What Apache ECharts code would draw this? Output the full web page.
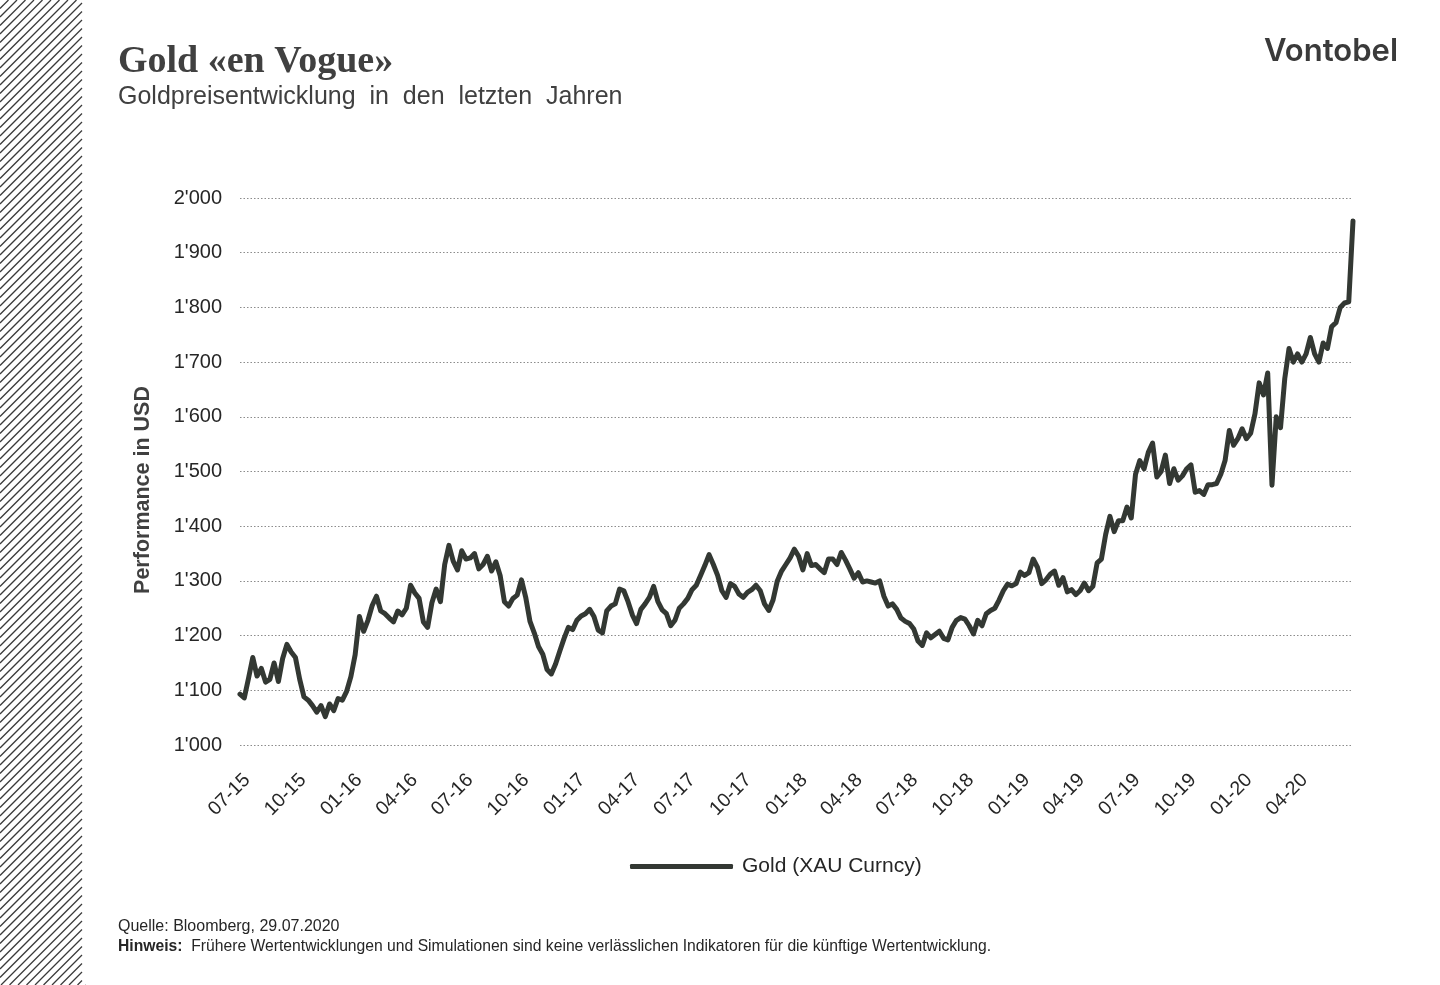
<!DOCTYPE html>
<html>
<head>
<meta charset="utf-8">
<script src="https://cdn.jsdelivr.net/npm/echarts@6/dist/echarts.min.js"></script>
<style>
html,body{margin:0;padding:0;background:#fff;}
#chart{width:1440px;height:985px;}
</style>
</head>
<body>
<div id="chart"></div>
<script>
// Weekly gold price (USD/oz), one value per Wednesday starting 29.07.2015
const startDate = '2015-07-29';
const gold2015 = [1093,1086,1122,1160,1126,1140,1115,1120,1150,1116,1158,1184,1170,1160,1120,1088,1082,1072,1060,1072,1052,1075,1063];
const gold2016 = [1085,1082,1098,1125,1165,1235,1208,1228,1255,1272,1245,1240,1232,1225,1245,1238,1250,1292,1278,1268,1225,1215,1260,1285,1262,1330,1365,1336,1320,1355,1340,1342,1350,1322,1330,1345,1318,1335,1310,1262,1254,1268,1274,1302,1270,1226,1205,1180,1166,1138,1130,1148];
const gold2017 = [1172,1195,1215,1211,1228,1236,1240,1248,1235,1210,1205,1245,1254,1258,1285,1282,1262,1238,1222,1248,1258,1270,1290,1262,1247,1240,1218,1228,1250,1258,1268,1284,1292,1310,1328,1348,1330,1310,1282,1270,1295,1290,1276,1270,1279,1284,1292,1282,1258,1246,1265,1300];
const gold2018 = [1318,1330,1342,1358,1345,1320,1350,1328,1330,1322,1315,1340,1340,1330,1352,1338,1322,1305,1315,1298,1300,1298,1296,1300,1272,1254,1258,1248,1232,1226,1222,1212,1190,1182,1205,1196,1202,1208,1195,1192,1215,1228,1233,1230,1218,1203,1228,1218,1240,1246,1250,1265];
const gold2019 = [1282,1294,1291,1295,1316,1310,1315,1340,1325,1295,1302,1312,1318,1292,1306,1280,1284,1275,1282,1296,1282,1290,1333,1340,1385,1418,1390,1410,1410,1435,1415,1495,1520,1505,1535,1552,1490,1500,1530,1478,1505,1484,1492,1505,1512,1462,1465,1458,1476,1476,1478,1495];
const gold2020 = [1520,1575,1548,1560,1578,1560,1570,1605,1662,1640,1680,1475,1600,1580,1670,1725,1700,1715,1700,1715,1745,1715,1700,1735,1725,1765,1772,1800,1808,1810,1958];

// x-axis tick positions and labels (quarterly)
const tickDates = ['2015-07-29','2015-10-29','2016-01-29','2016-04-29','2016-07-29','2016-10-29','2017-01-29','2017-04-29','2017-07-29','2017-10-29','2018-01-29','2018-04-29','2018-07-29','2018-10-29','2019-01-29','2019-04-29','2019-07-29','2019-10-29','2020-01-29','2020-04-29'];
const tickLabels = ['07-15','10-15','01-16','04-16','07-16','10-16','01-17','04-17','07-17','10-17','01-18','04-18','07-18','10-18','01-19','04-19','07-19','10-19','01-20','04-20'];

const yMin = 1000, yMax = 2000, yStep = 100;
const seriesName = 'Gold (XAU Curncy)';
const axisName = 'Performance in USD';

const DAY = 86400000;
function toUTC(s){ const p = s.split('-').map(Number); return Date.UTC(p[0], p[1]-1, p[2]); }
const t0 = toUTC(startDate);
const tickDays = tickDates.map(s => Math.round((toUTC(s) - t0) / DAY));
const values = [].concat(gold2015, gold2016, gold2017, gold2018, gold2019, gold2020);
const data = values.map((v, i) => [7 * i, v]);          // x = days since start date
const xMax = 7 * (values.length - 1);

// decorative hatched band on the left
const stripes = [];
const bandW = 82, H = 985, step = 8.5;
for (let c = 0; c < bandW + H + step; c += step) {
  const x1 = Math.max(0, c - H), y1 = c - x1;
  const x2 = Math.min(bandW, c), y2 = c - x2;
  stripes.push({type:'line', silent:true, shape:{x1:x1, y1:y1, x2:x2, y2:y2}, style:{stroke:'#3a3a3a', lineWidth:1.3}});
}

const textColor = '#404040';
const chart = echarts.init(document.getElementById('chart'), null, {renderer:'canvas'});
chart.setOption({
  animation: false,
  backgroundColor: '#fff',
  grid: {left: 240, right: 87, top: 198, bottom: 240, containLabel: false},
  legend: {
    data: [seriesName], left: 625, top: 851, icon: 'roundRect', itemWidth: 103, itemHeight: 5, itemGap: 10,
    textStyle: {fontFamily: 'Liberation Sans', fontSize: 21, color: '#262626', padding: [0,0,0,4]}
  },
  xAxis: {
    type: 'value', min: 0, max: xMax,
    axisLine: {show: false}, axisTick: {show: false}, splitLine: {show: false},
    axisLabel: {
      customValues: tickDays, rotate: 45, margin: 25, verticalAlign: 'top',
      fontFamily: 'Liberation Sans', fontSize: 19.5, color: '#262626',
      formatter: function(v){ const k = tickDays.indexOf(Math.round(v)); return k >= 0 ? tickLabels[k] : ''; }
    }
  },
  yAxis: {
    type: 'value', min: yMin, max: yMax, interval: yStep,
    axisLine: {show: false}, axisTick: {show: false},
    axisLabel: {margin: 18, fontFamily: 'Liberation Sans', fontSize: 20, color: '#262626',
      formatter: function(v){ const s = String(v); return s.length > 3 ? s.slice(0, s.length-3) + "'" + s.slice(-3) : s; }},
    splitLine: {show: true, lineStyle: {color: '#8c8c8c', width: 1.2, type: [1.5, 2]}}
  },
  series: [{
    name: seriesName, type: 'line', data: data, showSymbol: false, symbol: 'none',
    lineStyle: {color: '#333833', width: 5, join: 'round', cap: 'round'},
    itemStyle: {color: '#333833'}
  }],
  graphic: stripes.concat([
    {type:'text', left: 118, top: 43, style:{text:'Gold «en Vogue»', font:'bold 38px "Liberation Serif"', fill:textColor}},
    {type:'text', left: 118, top: 85, style:{text:'Goldpreisentwicklung  in  den  letzten  Jahren', font:'25px "Liberation Sans"', fill:textColor}},
    {type:'text', right: 42, top: 36, style:{text:'Vontobel', font:'600 31px Inter', fill:'#3a3a3a'}},
    {type:'text', x: 143, y: 490, rotation: Math.PI / 2, style:{text: axisName, font:'bold 21.5px "Liberation Sans"', fill:textColor, align:'center', verticalAlign:'middle'}},
    {type:'text', left: 118, top: 919, style:{text:'Quelle: Bloomberg, 29.07.2020', font:'16px "Liberation Sans"', fill:'#262626'}},
    {type:'text', left: 118, top: 939, style:{text:'{b|Hinweis:}  Frühere Wertentwicklungen und Simulationen sind keine verlässlichen Indikatoren für die künftige Wertentwicklung.',
      font:'15.7px "Liberation Sans"', fill:'#262626', rich:{b:{fontWeight:'bold', fontFamily:'Liberation Sans', fontSize:15.7, fill:'#262626'}}}}
  ])
});
</script>
</body>
</html>
